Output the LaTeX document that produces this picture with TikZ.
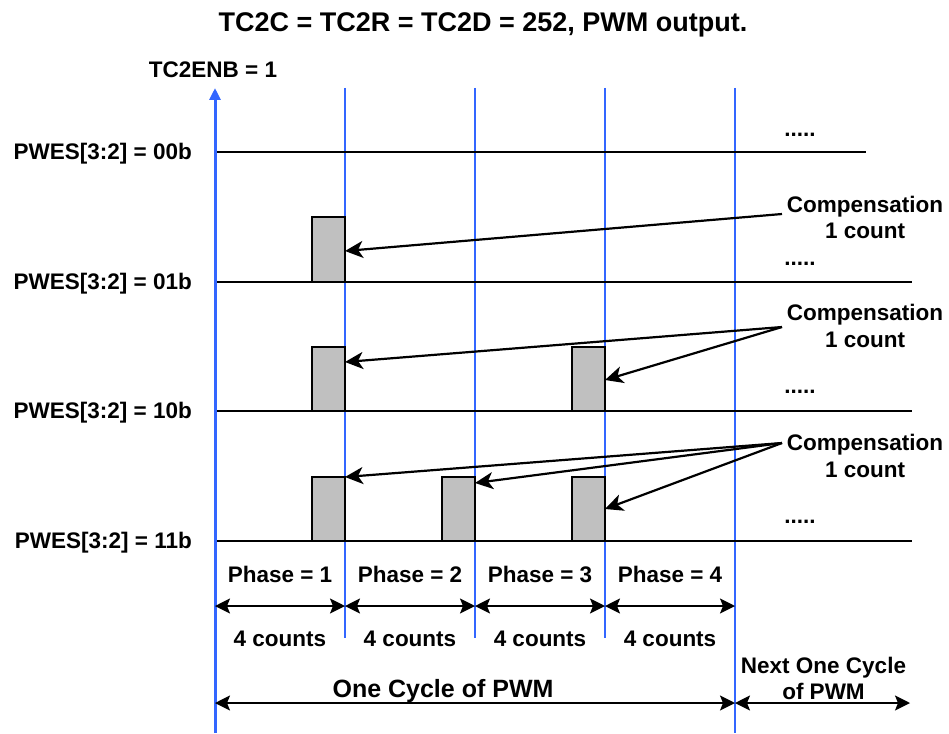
\documentclass[tikz,border=0pt]{standalone}
\usepackage{fontspec}
\setmainfont{Liberation Sans}
\usetikzlibrary{arrows.meta}
\definecolor{axisblue}{RGB}{51,102,255}
\definecolor{boxgray}{RGB}{192,192,192}
\begin{document}
\begin{tikzpicture}[x=1pt,y=-1pt,
  lbl/.style={font=\fontsize{22.5}{27}\selectfont\bfseries, inner sep=0pt, anchor=base},
  biglbl/.style={font=\fontsize{25}{30}\selectfont\bfseries, inner sep=0pt, anchor=base},
  titlelbl/.style={font=\fontsize{27}{32}\selectfont\bfseries, inner sep=0pt, anchor=base},
  mainaxis/.style={draw=axisblue, line width=3pt, -{Triangle[length=12pt,width=11pt]}},
  phaseline/.style={draw=axisblue, line width=1.4pt},
  level/.style={draw=black, line width=1.3pt},
  pulse/.style={draw=black, fill=boxgray, line width=1.2pt},
  comparrow/.style={draw=black, line width=2.2pt, -{Stealth[length=18pt,width=17pt,inset=5pt]}},
  dimarrow/.style={draw=black, line width=1.6pt, {Stealth[length=15pt,width=15pt,inset=3pt]}-{Stealth[length=15pt,width=15pt,inset=3pt]}},
]
\useasboundingbox (0,0) rectangle (949,733);

% title
\node[titlelbl] (title) at (483,32) {TC2C = TC2R = TC2D = 252, PWM output.};
\node[lbl] (enb) at (213,78) {TC2ENB = 1};

% coordinates for grid
\coordinate (axb) at (215,733);
\coordinate (axt) at (215,88);
\foreach \x/\n in {345/a,475/b,605/c} {
  \coordinate (pt\n) at (\x,88);
  \coordinate (pb\n) at (\x,638);
}
\coordinate (ptd) at (735,88);
\coordinate (pbd) at (735,733);

% phase lines
\draw[phaseline] (pta) -- (pba);
\draw[phaseline] (ptb) -- (pbb);
\draw[phaseline] (ptc) -- (pbc);
\draw[phaseline] (ptd) -- (pbd);

% levels
\coordinate (l0s) at (215,152); \coordinate (l0e) at (866,152);
\coordinate (l1s) at (215,282); \coordinate (l1e) at (912,282);
\coordinate (l2s) at (215,411); \coordinate (l2e) at (912,411);
\coordinate (l3s) at (215,541); \coordinate (l3e) at (912,541);
\draw[level] (l0s) -- (l0e);
\draw[level] (l1s) -- (l1e);
\draw[level] (l2s) -- (l2e);
\draw[level] (l3s) -- (l3e);

% level labels
\node[lbl, anchor=base east] (p00) at (192,159) {PWES[3:2] = 00b};
\node[lbl, anchor=base east] (p01) at (192,289) {PWES[3:2] = 01b};
\node[lbl, anchor=base east] (p10) at (192,418) {PWES[3:2] = 10b};
\node[lbl, anchor=base east] (p11) at (192,548) {PWES[3:2] = 11b};

% dots
\node[lbl] (d0) at (800,136) {.....};
\node[lbl] (d1) at (800,265) {.....};
\node[lbl] (d2) at (800,393) {.....};
\node[lbl] (d3) at (800,523) {.....};

% pulses
\draw[pulse] (312,282) rectangle (345,217) node[pos=0.5, inner sep=0pt] (b1a) {};
\draw[pulse] (312,411) rectangle (345,347) node[pos=0.5, inner sep=0pt] (b2a) {};
\draw[pulse] (572,411) rectangle (605,347) node[pos=0.5, inner sep=0pt] (b2c) {};
\draw[pulse] (312,541) rectangle (345,477) node[pos=0.5, inner sep=0pt] (b3a) {};
\draw[pulse] (442,541) rectangle (475,477) node[pos=0.5, inner sep=0pt] (b3b) {};
\draw[pulse] (572,541) rectangle (605,477) node[pos=0.5, inner sep=0pt] (b3c) {};

% main axis (on top)
\draw[mainaxis] (axb) -- (axt);

% compensation labels
\node[lbl] (c1a) at (865,212) {Compensation};
\node[lbl] (c1b) at (865,238) {1 count};
\node[lbl] (c2a) at (865,320) {Compensation};
\node[lbl] (c2b) at (865,347) {1 count};
\node[lbl] (c3a) at (865,450) {Compensation};
\node[lbl] (c3b) at (865,477) {1 count};

\coordinate (s1) at (782,214);
\coordinate (s2) at (782,327);
\coordinate (s3) at (782,443);
\coordinate (e1) at (345,251);
\coordinate (e2a) at (345,362);
\coordinate (e2c) at (605,380);
\coordinate (e3a) at (345,477);
\coordinate (e3b) at (475,483);
\coordinate (e3c) at (605,509);
\draw[comparrow] (s1) -- (e1);
\draw[comparrow] (s2) -- (e2a);
\draw[comparrow] (s2) -- (e2c);
\draw[comparrow] (s3) -- (e3a);
\draw[comparrow] (s3) -- (e3b);
\draw[comparrow] (s3) -- (e3c);

% phase dimensions
\coordinate (q0) at (215,606);
\coordinate (q1) at (345,606);
\coordinate (q2) at (475,606);
\coordinate (q3) at (605,606);
\coordinate (q4) at (735,606);
\draw[dimarrow] (q0) -- (q1);
\draw[dimarrow] (q1) -- (q2);
\draw[dimarrow] (q2) -- (q3);
\draw[dimarrow] (q3) -- (q4);
\node[lbl] (ph1) at (280,582) {Phase = 1};
\node[lbl] (ph2) at (410,582) {Phase = 2};
\node[lbl] (ph3) at (540,582) {Phase = 3};
\node[lbl] (ph4) at (670,582) {Phase = 4};
\node[lbl] (n1) at (280,646) {4 counts};
\node[lbl] (n2) at (410,646) {4 counts};
\node[lbl] (n3) at (540,646) {4 counts};
\node[lbl] (n4) at (670,646) {4 counts};

% cycle dimensions
\coordinate (r0) at (215,703);
\coordinate (r1) at (735,703);
\coordinate (r2) at (910,703);
\draw[dimarrow] (r0) -- (r1);
\draw[dimarrow] (r1) -- (r2);
\node[biglbl] (cyc) at (443,697) {One Cycle of PWM};
\node[lbl] (nxa) at (823.5,673) {Next One Cycle};
\node[lbl] (nxb) at (823.5,699) {of PWM};
\end{tikzpicture}
\end{document}
